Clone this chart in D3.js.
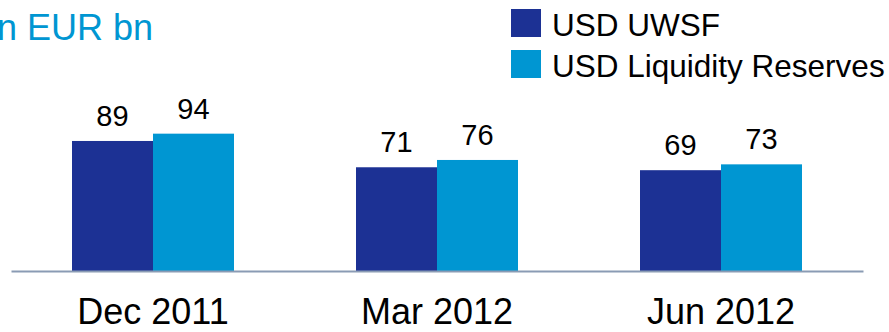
<!DOCTYPE html>
<html><head><meta charset="utf-8">
<script src="https://cdn.jsdelivr.net/npm/d3@7"></script>
<style>html,body{margin:0;padding:0;background:#fff;overflow:hidden}svg{display:block}</style>
</head><body>
<svg id="c" width="889" height="332"></svg>
<script>
const categories = ["Dec 2011", "Mar 2012", "Jun 2012"];
const seriesNames = ["USD UWSF", "USD Liquidity Reserves"];
const uwsf = [89, 71, 69];
const liquidity = [94, 76, 73];
const colors = ["#1c3194", "#0096d2"];
const title = "in EUR bn";

const svg = d3.select("#c");
const font = "Liberation Sans, Arial, Helvetica, sans-serif";
const baseY = 271;

const x = d3.scaleBand().domain(categories).range([11, 863]).padding(0);
const sub = d3.scaleBand().domain(seriesNames).range([61, 223]).padding(0);
const y = d3.scaleLinear().domain([0, 100]).range([baseY, baseY - 146.1]);

const series = [uwsf, liquidity];
const data = [];
categories.forEach((c, i) => seriesNames.forEach((s, j) => data.push({c, s, v: series[j][i], j})));

const g = svg.append("g");
g.selectAll("rect.bar").data(data).join("rect")
  .attr("class", "bar")
  .attr("x", d => x(d.c) + sub(d.s))
  .attr("y", d => y(d.v))
  .attr("width", sub.bandwidth())
  .attr("height", d => y(0) - y(d.v))
  .attr("fill", d => colors[d.j]);

g.selectAll("text.val").data(data).join("text")
  .attr("class", "val")
  .attr("x", d => x(d.c) + sub(d.s) + sub.bandwidth() / 2)
  .attr("y", d => y(d.v) - 15)
  .attr("text-anchor", "middle")
  .attr("font-family", font)
  .attr("font-size", 29)
  .attr("fill", "#000")
  .text(d => d.v);

// axis
const axis = d3.axisBottom(x).tickSize(0).tickPadding(0);
const ax = svg.append("g").attr("transform", `translate(0,${baseY})`).call(axis);
ax.select(".domain").attr("stroke", "#8a9bb4").attr("stroke-width", 2);
ax.selectAll(".tick text")
  .attr("font-family", font)
  .attr("font-size", 36)
  .attr("fill", "#000")
  .attr("dy", null)
  .attr("y", 53);

// title
svg.append("text")
  .attr("x", -11).attr("y", 40)
  .attr("font-family", font).attr("font-size", 36)
  .attr("fill", "#0096d2")
  .text(title);

// legend
const lg = svg.append("g");
const legendY = [9, 50];
const leg = lg.selectAll("g").data(seriesNames).join("g")
  .attr("transform", (d, i) => `translate(511,${legendY[i]})`);
leg.append("rect").attr("width", 30).attr("height", 28).attr("fill", (d, i) => colors[i]);
leg.append("text").attr("x", 41).attr("y", 27)
  .attr("font-family", font).attr("font-size", 31.5).attr("fill", "#000")
  .text(d => d);
</script>
</body></html>
